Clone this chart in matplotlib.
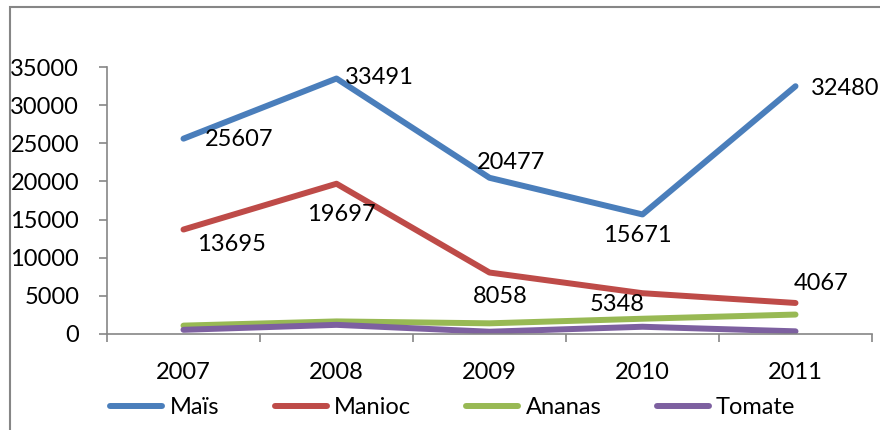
import matplotlib
matplotlib.use("Agg")
import matplotlib.pyplot as plt
from matplotlib.patches import Rectangle

years = ["2007", "2008", "2009", "2010", "2011"]
mais = [25607, 33491, 20477, 15671, 32480]
manioc = [13695, 19697, 8058, 5348, 4067]
ananas = [1100, 1650, 1400, 2000, 2550]
tomate = [550, 1200, 300, 950, 350]
series_names = ["Maïs", "Manioc", "Ananas", "Tomate"]
colors = ["#4A7EBB", "#BE4B48", "#98B954", "#7D60A0"]

# label offsets in pixels (dx, dy) relative to each point
mais_off = [(56, -1), (43, 1), (21, 15), (-5, -21), (50, -2)]
manioc_off = [(48, -15), (5, -31), (11, -24), (-25, -11), (26, 19)]

plt.rcParams['font.family'] = ['Lato', 'DejaVu Sans']
FS = 17

fig = plt.figure(figsize=(8.8, 4.3), dpi=100)
ax = fig.add_axes([107/880, 1-334/430, (872-107)/880, (334-67)/430])

x = list(range(len(years)))
data = [mais, manioc, ananas, tomate]
lines = []
for vals, name, c in zip(data, series_names, colors):
    ln, = ax.plot(x, vals, color=c, lw=4.3, solid_capstyle='round', label=name)
    lines.append(ln)

for vals, offs in [(mais, mais_off), (manioc, manioc_off)]:
    for xi, v, (dx, dy) in zip(x, vals, offs):
        ax.annotate(str(v), (xi, v), xytext=(dx, dy), textcoords='offset pixels',
                    ha='center', va='center', fontsize=FS, color='black',
                    annotation_clip=False)

ax.set_xlim(-0.5, len(years) - 0.5)
ax.set_ylim(0, 35000)
ax.set_yticks(range(0, 35001, 5000))
ax.set_xticks(x)
ax.set_xticklabels(years)
ax.set_xticks([i - 0.5 for i in range(len(years) + 1)], minor=True)
ax.tick_params(axis='x', which='major', length=0, pad=20, labelsize=FS)
ax.tick_params(axis='x', which='minor', length=6, width=1.2, color='#868686')
ax.tick_params(axis='y', length=6, width=1.2, color='#868686', pad=14, labelsize=FS)
for s in ['top', 'right']:
    ax.spines[s].set_visible(False)
for s in ['left', 'bottom']:
    ax.spines[s].set_color('#868686')
    ax.spines[s].set_linewidth(1.2)

fig.legend(handles=lines, labels=series_names, loc='center', bbox_to_anchor=(0.5146, 1-408/430),
           ncol=4, frameon=False, fontsize=FS, handlelength=2.2, handletextpad=0.3,
           columnspacing=2.36)

fig.patches.append(Rectangle((10/880, -0.1), 1.2, 1.1 - 7/430,
                             transform=fig.transFigure, fill=False,
                             edgecolor='#868686', lw=1.5, clip_on=False))

fig.savefig("out.png", dpi=100)
